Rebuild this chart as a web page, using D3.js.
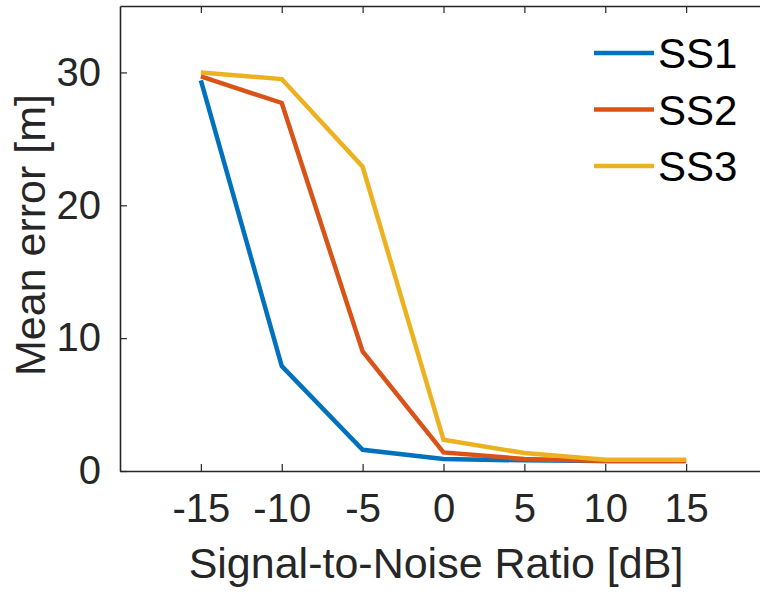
<!DOCTYPE html>
<html>
<head>
<meta charset="utf-8">
<script src="https://cdn.jsdelivr.net/npm/d3@7"></script>
<style>
  html, body { margin: 0; padding: 0; background: #fff; }
  svg { display: block; font-family: 'Liberation Sans', Arial, sans-serif; }
</style>
</head>
<body>
<div id="chart"></div>
<script>
// data
const snr = [-15, -10, -5, 0, 5, 10, 15];
const ss1 = [29.4, 7.9, 1.6, 0.9, 0.8, 0.75, 0.75];
const ss2 = [29.7, 27.7, 9.0, 1.4, 0.9, 0.75, 0.75];
const ss3 = [30.0, 29.5, 22.9, 2.35, 1.35, 0.85, 0.85];
const seriesNames = ['SS1', 'SS2', 'SS3'];
const seriesColors = ['#0072BD', '#D95319', '#EDB120'];
const xTicks = [-15, -10, -5, 0, 5, 10, 15];
const yTicks = [0, 10, 20, 30];

const width = 760, height = 593;
const margin = { left: 120, right: -7, top: 6, bottom: 122 };
const axisColor = '#262626';

const svg = d3.select('#chart').append('svg')
  .attr('width', width)
  .attr('height', height);

const x = d3.scaleLinear()
  .domain([-20, 20])
  .range([margin.left, width - margin.right]);
const y = d3.scaleLinear()
  .domain([0, 35])
  .range([height - margin.bottom, margin.top]);

svg.append('clipPath').attr('id', 'plot-clip')
  .append('rect')
  .attr('x', x(-20)).attr('y', y(35))
  .attr('width', x(20) - x(-20)).attr('height', y(0) - y(35));

// series lines
const series = [ss1, ss2, ss3];
const line = d3.line()
  .x((d, i) => x(snr[i]))
  .y(d => y(d));

svg.append('g')
  .attr('clip-path', 'url(#plot-clip)')
  .selectAll('path')
  .data(series)
  .join('path')
  .attr('d', d => line(d))
  .attr('fill', 'none')
  .attr('stroke', (d, i) => seriesColors[i])
  .attr('stroke-width', 4.5)
  .attr('stroke-linejoin', 'miter');

// axes (box on, ticks pointing inward)
const tickLen = 7;
const plain = d => String(d); // hyphen minus like the original
const styleAxis = g => {
  g.select('.domain').attr('stroke', axisColor).attr('stroke-width', 1.6);
  g.selectAll('.tick line').attr('stroke', axisColor).attr('stroke-width', 1.2);
  g.selectAll('.tick text')
    .attr('fill', axisColor)
    .style('font-size', '40px');
};

svg.append('g')
  .attr('transform', `translate(0,${y(0)})`)
  .call(d3.axisBottom(x).tickValues(xTicks).tickFormat(plain).tickSizeInner(-tickLen).tickSizeOuter(0).tickPadding(23))
  .call(styleAxis)
  .call(g => g.selectAll('.tick text').attr('dy', '0.71em'));

svg.append('g')
  .attr('transform', `translate(0,${y(35)})`)
  .call(d3.axisTop(x).tickValues(xTicks).tickSizeInner(-tickLen).tickSizeOuter(0).tickFormat(''))
  .call(styleAxis);

svg.append('g')
  .attr('transform', `translate(${x(-20)},0)`)
  .call(d3.axisLeft(y).tickValues(yTicks).tickFormat(plain).tickSizeInner(-tickLen).tickSizeOuter(0).tickPadding(19))
  .call(styleAxis);

svg.append('g')
  .attr('transform', `translate(${x(20)},0)`)
  .call(d3.axisRight(y).tickValues(yTicks).tickSizeInner(-tickLen).tickSizeOuter(0).tickFormat(''))
  .call(styleAxis);

// axis labels
svg.append('text')
  .attr('x', 436)
  .attr('y', 578)
  .attr('text-anchor', 'middle')
  .attr('fill', axisColor)
  .style('font-size', '43px')
  .text('Signal-to-Noise Ratio [dB]');

svg.append('text')
  .attr('transform', 'translate(45,235) rotate(-90)')
  .attr('text-anchor', 'middle')
  .attr('fill', axisColor)
  .style('font-size', '43px')
  .text('Mean error [m]');

// legend
const legend = svg.append('g')
  .selectAll('g')
  .data(seriesNames)
  .join('g')
  .attr('transform', (d, i) => `translate(594,${53 + i * 56.5})`);

legend.append('line')
  .attr('x1', 0).attr('x2', 60)
  .attr('stroke', (d, i) => seriesColors[i])
  .attr('stroke-width', 4.5);

legend.append('text')
  .attr('x', 64)
  .attr('dy', '0.36em')
  .attr('fill', '#000')
  .style('font-size', '42px')
  .text(d => d);
</script>
</body>
</html>
